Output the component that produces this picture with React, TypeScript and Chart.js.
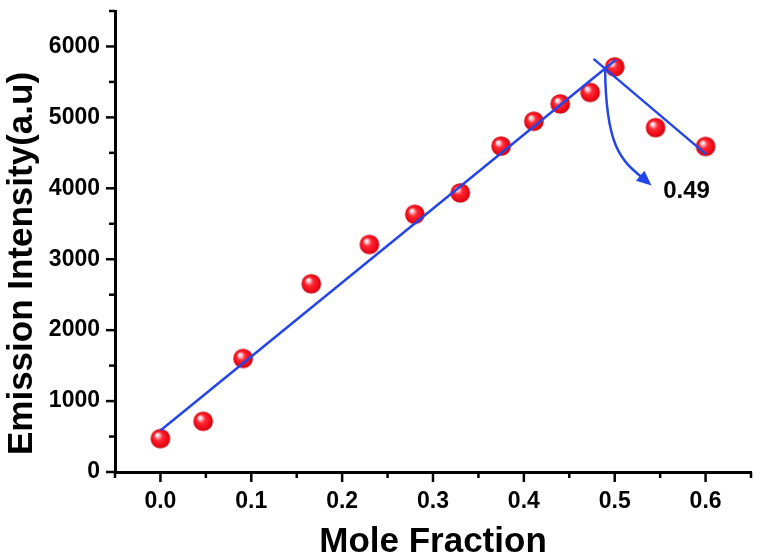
import React, { useRef, useEffect } from 'react';
import { Chart, registerables } from 'chart.js';
import type { Plugin } from 'chart.js';

Chart.register(...registerables);

// measured points (mole fraction vs emission intensity)
const moleFraction = [0, 0.047, 0.091, 0.166, 0.23, 0.28, 0.33, 0.375, 0.411, 0.44, 0.473, 0.5, 0.545, 0.6];
const intensity = [471, 715, 1601, 2654, 3208, 3633, 3935, 4595, 4945, 5190, 5352, 5712, 4855, 4590];

// the two straight fits that meet at the peak
const risingFitX = [0, 0.5016];
const risingFitY = [586, 5817];
const fallingFitX = [0.4767, 0.6007];
const fallingFitY = [5825, 4478];

// axis ticks (empty label = minor tick)
const xTicks = [-0.05, 0, 0.05, 0.1, 0.15, 0.2, 0.25, 0.3, 0.35, 0.4, 0.45, 0.5, 0.55, 0.6, 0.65];
const xTickLabels = ['', '0.0', '', '0.1', '', '0.2', '', '0.3', '', '0.4', '', '0.5', '', '0.6', ''];
const yTicks = [0, 500, 1000, 1500, 2000, 2500, 3000, 3500, 4000, 4500, 5000, 5500, 6000, 6500];
const yTickLabels = ['0', '', '1000', '', '2000', '', '3000', '', '4000', '', '5000', '', '6000', ''];

// curved arrow from the crossing point down to the label (data units: start, c1, c2, end)
const arrowX = [0.4894, 0.4902, 0.5109, 0.5372];
const arrowY = [5700, 4464, 4367, 4076];
const crossLabel = '0.49';
const crossLabelX = 0.5533;
const crossLabelY = 3952;

const FONT = '"Liberation Sans", Arial, sans-serif';
const BLUE = '#2446e8';

const makeBall = (r: number) => {
  const c = document.createElement('canvas');
  const size = Math.ceil(r * 2) + 2;
  c.width = size;
  c.height = size;
  const g = c.getContext('2d')!;
  const cx = size / 2;
  const cy = size / 2;
  const grad = g.createRadialGradient(cx - r * 0.35, cy - r * 0.4, r * 0.05, cx, cy, r);
  grad.addColorStop(0, '#ffffff');
  grad.addColorStop(0.15, '#ffc4cc');
  grad.addColorStop(0.4, '#ff2a35');
  grad.addColorStop(0.85, '#ec0612');
  grad.addColorStop(1, '#b8000c');
  g.fillStyle = grad;
  g.beginPath();
  g.arc(cx, cy, r, 0, Math.PI * 2);
  g.fill();
  return c;
};

const axisTicks: Plugin<'scatter'> = {
  id: 'axisTicks',
  afterDraw(chart) {
    const { ctx, chartArea, scales } = chart;
    ctx.save();
    ctx.strokeStyle = '#000';
    ctx.lineWidth = 2.5;
    xTicks.forEach((v, i) => {
      const px = scales.x.getPixelForValue(v);
      const len = xTickLabels[i] ? 10 : 6;
      ctx.beginPath();
      ctx.moveTo(px, chartArea.bottom);
      ctx.lineTo(px, chartArea.bottom + len);
      ctx.stroke();
    });
    yTicks.forEach((v, i) => {
      const py = scales.y.getPixelForValue(v);
      const len = yTickLabels[i] ? 9 : 6;
      ctx.beginPath();
      ctx.moveTo(chartArea.left, py);
      ctx.lineTo(chartArea.left - len, py);
      ctx.stroke();
    });
    ctx.restore();
  },
};

const axisTitles: Plugin<'scatter'> = {
  id: 'axisTitles',
  afterDraw(chart) {
    const { ctx, chartArea } = chart;
    ctx.save();
    ctx.fillStyle = '#000';
    ctx.font = `bold 35px ${FONT}`;
    ctx.textAlign = 'center';
    ctx.textBaseline = 'alphabetic';
    ctx.fillText('Mole Fraction', (chartArea.left + chartArea.right) / 2, chart.height - 5);
    ctx.translate(chartArea.left - 83, (chartArea.top + chartArea.bottom) / 2 + 22);
    ctx.rotate(-Math.PI / 2);
    ctx.fillText('Emission Intensity(a.u)', 0, 0);
    ctx.restore();
  },
};

const crossArrow: Plugin<'scatter'> = {
  id: 'crossArrow',
  afterDatasetsDraw(chart) {
    const { ctx, scales } = chart;
    const px = arrowX.map((v) => scales.x.getPixelForValue(v));
    const py = arrowY.map((v) => scales.y.getPixelForValue(v));
    ctx.save();
    ctx.strokeStyle = BLUE;
    ctx.fillStyle = BLUE;
    ctx.lineWidth = 2.5;
    ctx.beginPath();
    ctx.moveTo(px[0], py[0]);
    ctx.bezierCurveTo(px[1], py[1], px[2], py[2], px[3], py[3]);
    ctx.stroke();

    // arrow head along the end tangent
    const ang = Math.atan2(py[3] - py[2], px[3] - px[2]);
    const len = 15;
    const half = 6.5;
    const tipX = px[3] + Math.cos(ang) * 4;
    const tipY = py[3] + Math.sin(ang) * 4;
    const bx = tipX - Math.cos(ang) * len;
    const by = tipY - Math.sin(ang) * len;
    ctx.beginPath();
    ctx.moveTo(tipX, tipY);
    ctx.lineTo(bx + Math.sin(ang) * half, by - Math.cos(ang) * half);
    ctx.lineTo(bx - Math.sin(ang) * half, by + Math.cos(ang) * half);
    ctx.closePath();
    ctx.fill();

    ctx.fillStyle = '#000';
    ctx.font = `bold 24px ${FONT}`;
    ctx.textAlign = 'left';
    ctx.textBaseline = 'middle';
    ctx.fillText(crossLabel, scales.x.getPixelForValue(crossLabelX), scales.y.getPixelForValue(crossLabelY));
    ctx.restore();
  },
};

const App: React.FC = () => {
  const chartRef = useRef<HTMLCanvasElement>(null);
  const chartInstance = useRef<Chart | null>(null);

  useEffect(() => {
    if (!chartRef.current) return;
    document.body.style.margin = '0';

    const ctx = chartRef.current.getContext('2d');
    if (!ctx) return;

    if (chartInstance.current) {
      chartInstance.current.destroy();
    }

    const ball = makeBall(9.8);
    const tickFont = { family: FONT, size: 23, weight: 'bold' as const };

    chartInstance.current = new Chart(ctx, {
      type: 'scatter',
      data: {
        datasets: [
          {
            label: 'Rising fit',
            data: risingFitX.map((x, i) => ({ x, y: risingFitY[i] })),
            showLine: true,
            borderColor: BLUE,
            borderWidth: 2.5,
            pointRadius: 0,
          },
          {
            label: 'Falling fit',
            data: fallingFitX.map((x, i) => ({ x, y: fallingFitY[i] })),
            showLine: true,
            borderColor: BLUE,
            borderWidth: 2.5,
            pointRadius: 0,
          },
          {
            label: 'Emission Intensity',
            data: moleFraction.map((x, i) => ({ x, y: intensity[i] })),
            pointStyle: ball,
            pointRadius: 10,
          },
        ],
      },
      options: {
        responsive: true,
        maintainAspectRatio: false,
        animation: false,
        layout: {
          padding: { left: 25, right: 7, top: 5, bottom: 0 },
        },
        plugins: {
          legend: { display: false },
          tooltip: { enabled: false },
        },
        scales: {
          x: {
            type: 'linear',
            min: -0.05,
            max: 0.65,
            afterBuildTicks: (scale) => {
              scale.ticks = xTicks.map((value) => ({ value }));
            },
            afterFit: (scale) => {
              scale.height = 85;
              scale.paddingLeft = 0;
              scale.paddingRight = 0;
            },
            grid: { display: false, drawTicks: false },
            border: { display: true, color: '#000', width: 3 },
            ticks: {
              autoSkip: false,
              maxRotation: 0,
              minRotation: 0,
              padding: 16,
              color: '#000',
              font: tickFont,
              callback: (_value, index) => xTickLabels[index],
            },
          },
          y: {
            type: 'linear',
            min: 0,
            max: 6500,
            afterBuildTicks: (scale) => {
              scale.ticks = yTicks.map((value) => ({ value }));
            },
            afterFit: (scale) => {
              scale.width = 90;
              scale.paddingTop = 0;
              scale.paddingBottom = 0;
            },
            grid: { display: false, drawTicks: false },
            border: { display: true, color: '#000', width: 3 },
            ticks: {
              autoSkip: false,
              padding: 15,
              color: '#000',
              font: tickFont,
              callback: (_value, index) => yTickLabels[index],
            },
          },
        },
      },
      plugins: [axisTicks, axisTitles, crossArrow],
    });

    return () => {
      if (chartInstance.current) {
        chartInstance.current.destroy();
        chartInstance.current = null;
      }
    };
  }, []);

  return (
    <div style={{ position: 'relative', width: 762, height: 557, background: '#fff' }}>
      <canvas ref={chartRef} />
    </div>
  );
};

export default App;
